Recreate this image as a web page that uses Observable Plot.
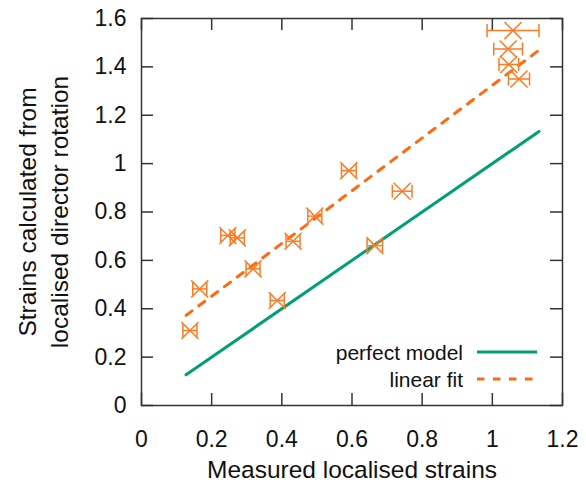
<!DOCTYPE html>
<html><head><meta charset="utf-8">
<script src="https://cdn.jsdelivr.net/npm/d3@7"></script>
<script src="https://cdn.jsdelivr.net/npm/@observablehq/plot@0.6"></script>
<style>body{margin:0;background:#fff} svg{display:block}</style>
</head><body><div id="chart"></div>
<script>
// ---- data ----
const measured    = [0.138, 0.166, 0.246, 0.273, 0.318, 0.387, 0.432, 0.494, 0.591, 0.665, 0.743, 1.059, 1.045, 1.047, 1.076];
const calculated  = [0.310, 0.482, 0.703, 0.693, 0.565, 0.434, 0.679, 0.783, 0.971, 0.661, 0.886, 1.550, 1.474, 1.410, 1.350];
const measuredErr = [0.020, 0.020, 0.020, 0.020, 0.020, 0.020, 0.020, 0.020, 0.021, 0.022, 0.028, 0.074, 0.041, 0.028, 0.030];
const xTicks = [0, 0.2, 0.4, 0.6, 0.8, 1, 1.2];
const yTicks = [0, 0.2, 0.4, 0.6, 0.8, 1, 1.2, 1.4, 1.6];
const lineRange = [0.127, 1.133];
const fitSlope = 1.09;
const fitIntercept = 0.234;
const seriesNames = ["perfect model", "linear fit"];
const xLabel = "Measured localised strains";
const yLabel = "Strains calculated from\nlocalised director rotation";

// ---- styling ----
const FONT = "'Liberation Sans', Arial, Helvetica, sans-serif";
const GREEN = "#00a077";
const ORANGE = "#ff7a22";
const FITORANGE = "#ff6a10";
const W = 586, H = 483, ML = 141, MR = 24, MT = 18, MB = 78;
const innerW = W - ML - MR, innerH = H - MT - MB;
const TICK = 12;

const points = measured.map((x, i) => ({x, y: calculated[i], e: measuredErr[i]}));
const perfect = lineRange.map(x => ({x, y: x}));
const fit = lineRange.map(x => ({x, y: fitSlope * x + fitIntercept}));
const fmt = d => String(+d.toFixed(1));

const vbar = {draw(ctx, size) { const h = Math.sqrt(size / Math.PI); ctx.moveTo(0, -h); ctx.lineTo(0, h); }};

function legend(index, scales, values, dims) {
  const g = d3.create("svg:g").attr("font-family", FONT).attr("font-size", 21).attr("fill", "#111");
  const right = dims.width - dims.marginRight;
  const bottom = dims.height - dims.marginBottom;
  const rows = [
    {name: seriesNames[0], color: GREEN, dash: null, y: bottom - 53},
    {name: seriesNames[1], color: FITORANGE, dash: "7.5,8.5", y: bottom - 26}
  ];
  for (const r of rows) {
    g.append("text").attr("x", right - 99).attr("y", r.y).attr("dy", "0.36em")
      .attr("text-anchor", "end").text(r.name);
    const l = g.append("line").attr("x1", right - 85).attr("x2", right - 25)
      .attr("y1", r.y).attr("y2", r.y).attr("stroke", r.color).attr("stroke-width", 3);
    if (r.dash) l.attr("stroke-dasharray", r.dash);
  }
  return g.node();
}

const chart = Plot.plot({
  width: W, height: H,
  marginLeft: ML, marginRight: MR, marginTop: MT, marginBottom: MB,
  style: {fontFamily: FONT, background: "#fff", color: "#111"},
  x: {domain: [0, 1.2]},
  y: {domain: [0, 1.6]},
  marks: [
    // tick labels
    Plot.axisX({ticks: xTicks, tickSize: 0, tickPadding: 25, fontSize: 23, label: null, tickFormat: fmt}),
    Plot.axisY({ticks: yTicks, tickSize: 0, tickPadding: 15, fontSize: 23, label: null, tickFormat: fmt}),
    // inward ticks on all four sides
    Plot.ruleX(xTicks, {x: d => d, insetTop: innerH - TICK, stroke: "#333", strokeWidth: 1.5}),
    Plot.ruleX(xTicks, {x: d => d, insetBottom: innerH - TICK, stroke: "#333", strokeWidth: 1.5}),
    Plot.ruleY(yTicks, {y: d => d, insetRight: innerW - TICK, stroke: "#333", strokeWidth: 1.5}),
    Plot.ruleY(yTicks, {y: d => d, insetLeft: innerW - TICK, stroke: "#333", strokeWidth: 1.5}),
    Plot.frame({stroke: "#333", strokeWidth: 1.5}),
    // lines
    Plot.line(perfect, {x: "x", y: "y", stroke: GREEN, strokeWidth: 3}),
    Plot.line(fit, {x: "x", y: "y", stroke: FITORANGE, strokeWidth: 3, strokeDasharray: "7.5,8.5"}),
    // error bars
    Plot.link(points, {x1: d => d.x - d.e, x2: d => d.x + d.e, y1: "y", y2: "y", stroke: ORANGE, strokeWidth: 1.5}),
    Plot.dot(points, {x: d => d.x - d.e, y: "y", symbol: vbar, r: 6.5, fill: "none", stroke: ORANGE, strokeWidth: 1.5}),
    Plot.dot(points, {x: d => d.x + d.e, y: "y", symbol: vbar, r: 6.5, fill: "none", stroke: ORANGE, strokeWidth: 1.5}),
    Plot.dot(points, {x: "x", y: "y", symbol: "times", r: 7.8, fill: "none", stroke: ORANGE, strokeWidth: 1.5}),
    // axis labels
    Plot.text([xLabel], {frameAnchor: "bottom", dy: 65, fontSize: 24.5, lineAnchor: "middle", textAnchor: "middle", fill: "#111"}),
    Plot.text([yLabel], {frameAnchor: "left", dx: -100, rotate: -90, fontSize: 24.5, lineHeight: 1.33, lineAnchor: "middle", textAnchor: "middle", fill: "#111"}),
    legend
  ]
});
document.getElementById("chart").appendChild(chart);
</script>
</body></html>
